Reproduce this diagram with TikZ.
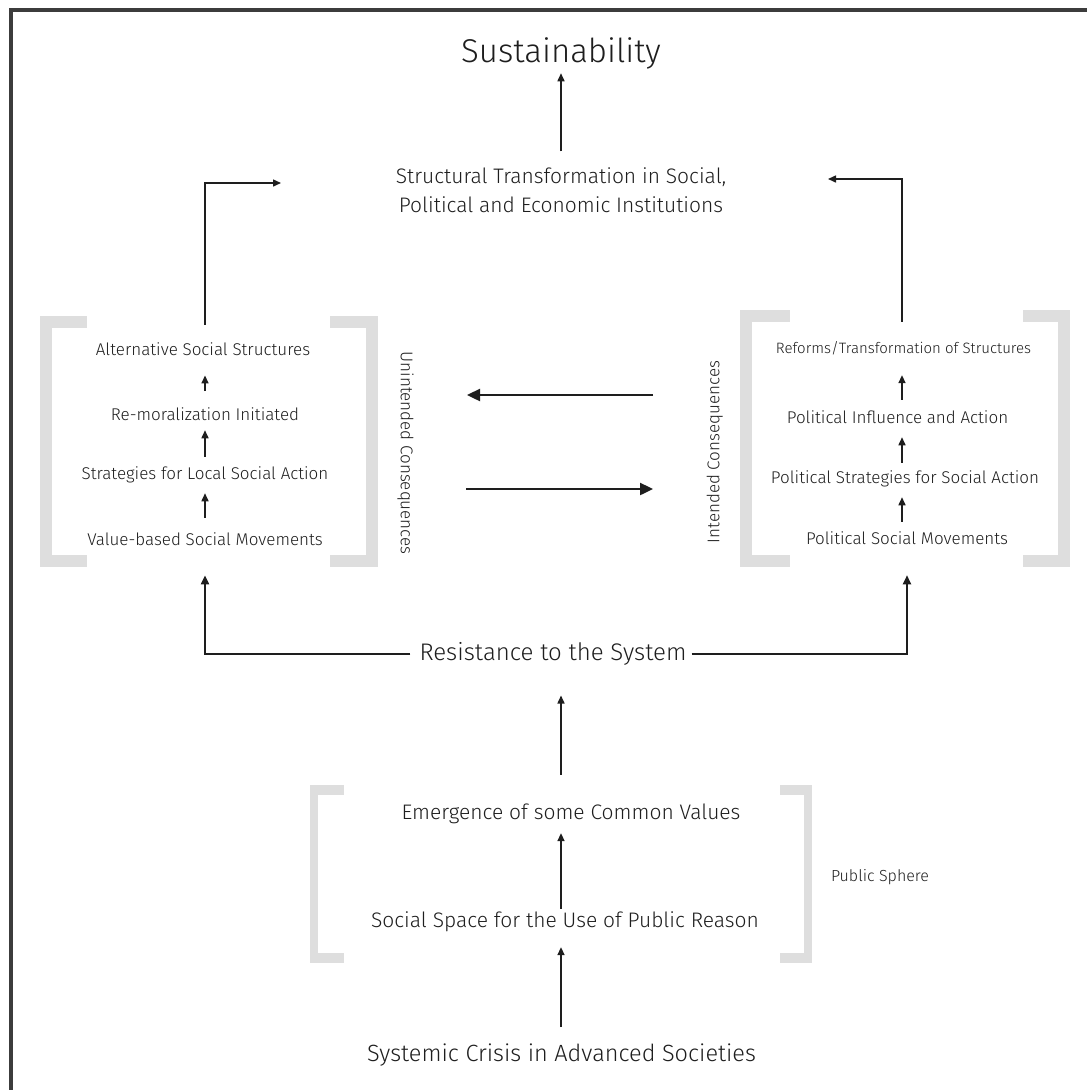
\documentclass[tikz,border=0pt]{standalone}
\usepackage{fontspec}
\setmainfont{Fira Sans Light}
\usetikzlibrary{arrows.meta}
\definecolor{brk}{RGB}{222,222,222}
\definecolor{ink}{RGB}{30,30,30}
\definecolor{framec}{RGB}{60,60,60}
\begin{document}
\begin{tikzpicture}[x=1pt,y=-1pt,
  txt/.style={inner sep=0pt, text=ink, anchor=base},
  fs/.style={font=\fontsize{#1}{#1}\selectfont, text height=0.75*#1 pt, text depth=0.25*#1 pt},
  arr/.style={draw=ink, line width=1.5pt, -{Triangle[length=8pt,width=7pt]}},
  resarr/.style={draw=ink, line width=1.9pt, -{Triangle[length=9pt,width=8pt]}},
  bigarr/.style={draw=ink, line width=2.4pt, -{Triangle[length=13pt,width=12pt]}},
  brkfill/.style={fill=brk, draw=none}]
\useasboundingbox (0,0) rectangle (1087,1090);
\fill[white] (0,0) rectangle (1087,1090);
% frame
\draw[framec, line width=4pt] (11,1090) -- (11,10) -- (1087,10);

% top
\node[txt, fs=33] (sus) at (561,62.4) {Sustainability};
\node[inner sep=0pt, text=ink, align=center, font=\fontsize{21}{29}\selectfont] (st) at (561,190.5)
  {Structural Transformation in Social,\\Political and Economic Institutions};
\draw[arr, shorten <=16.5pt, shorten >=2.4pt] (st.north) -- (sus.south);

% left group
\node[txt, fs=17] (alt) at (203,355.9) {Alternative Social Structures};
\node[txt, fs=17] (rem) at (205,420.9) {Re-moralization Initiated};
\node[txt, fs=17] (sla) at (205,479.4) {Strategies for Local Social Action};
\node[txt, fs=17] (vsm) at (205,545.9) {Value-based Social Movements};
\coordinate (lcol) at (205,0);
\draw[arr, shorten <=16.9pt, shorten >=15.1pt] (rem.north -| lcol) -- (alt.south -| lcol);
\draw[arr, shorten <=9.6pt, shorten >=4.9pt] (sla.north -| lcol) -- (rem.south -| lcol);
\draw[arr, shorten <=15.1pt, shorten >=9.4pt] (vsm.north -| lcol) -- (sla.south -| lcol);
% left brackets
\fill[brkfill] (40,316) rectangle (52,567);
\fill[brkfill] (40,316) rectangle (87,328);
\fill[brkfill] (40,555) rectangle (87,567);
\fill[brkfill] (366,316) rectangle (378,567);
\fill[brkfill] (330,316) rectangle (378,328);
\fill[brkfill] (330,555) rectangle (378,567);
\node[inner sep=0pt, text=ink, fs=17, rotate=-90] (unc) at (405,453) {Unintended Consequences};

% right group
\coordinate (rcol) at (902,0);
\node[txt, fs=15] (ref) at (903.5,353.2) {Reforms/Transformation of Structures};
\node[txt, fs=17] (pia) at (897.5,423.9) {Political Influence and Action};
\node[txt, fs=17] (psa) at (905,483.4) {Political Strategies for Social Action};
\node[txt, fs=17] (psm) at (907,544.4) {Political Social Movements};
\draw[arr, shorten <=11pt, shorten >=18pt] (pia.north -| rcol) -- (ref.south -| rcol);
\draw[arr, shorten <=7.7pt, shorten >=8.9pt] (psa.north -| rcol) -- (pia.south -| rcol);
\draw[arr, shorten <=9.7pt, shorten >=9.4pt] (psm.north -| rcol) -- (psa.south -| rcol);
\fill[brkfill] (740,310) rectangle (752,567);
\fill[brkfill] (740,310) rectangle (790,322);
\fill[brkfill] (740,555) rectangle (790,567);
\fill[brkfill] (1058,310) rectangle (1070,567);
\fill[brkfill] (1023,310) rectangle (1070,322);
\fill[brkfill] (1023,555) rectangle (1070,567);
\node[inner sep=0pt, text=ink, fs=17, rotate=90] (inc) at (715,452) {Intended Consequences};

% elbows to structural transformation
\coordinate (tl) at (281,183);
\coordinate (tr) at (828,179);
\draw[arr, shorten <=18pt] (alt.north -| lcol) |- (tl);
\draw[arr, shorten <=20pt] (ref.north -| rcol) |- (tr);

% middle arrows
\coordinate (ma1) at (653,395);
\coordinate (mb1) at (467,395);
\coordinate (ma2) at (466,489);
\coordinate (mb2) at (653,489);
\draw[bigarr] (ma1) -- (mb1);
\draw[bigarr] (ma2) -- (mb2);

% resistance
\node[txt, fs=24, text height=17pt, text depth=5pt] (res) at (553,660.3) {Resistance to the System};
\draw[resarr, shorten <=9pt, shorten >=25pt] (res.west) -| (vsm.south);
\draw[resarr, shorten <=5pt, shorten >=26.4pt] (res.east) -| (psm.south);

% public sphere
\coordinate (ccol) at (561,0);
\node[txt, fs=21] (ecv) at (571,819.2) {Emergence of some Common Values};
\node[txt, fs=21] (ssp) at (565,927.7) {Social Space for the Use of Public Reason};
\node[txt, fs=23.5] (sys) at (561.5,1061.3) {Systemic Crisis in Advanced Societies};
\draw[arr, shorten <=28.5pt, shorten >=30pt] (ecv.north -| ccol) -- (res.south -| ccol);
\draw[arr, shorten <=3pt, shorten >=8.5pt] (ssp.north -| ccol) -- (ecv.south -| ccol);
\draw[arr, shorten <=16.3pt, shorten >=14pt] (sys.north -| ccol) -- (ssp.south -| ccol);
\fill[brkfill] (310,785) rectangle (318,963);
\fill[brkfill] (310,785) rectangle (344,795);
\fill[brkfill] (310,953) rectangle (344,963);
\fill[brkfill] (804,785) rectangle (812,963);
\fill[brkfill] (780,785) rectangle (812,795);
\fill[brkfill] (780,953) rectangle (812,963);
\node[inner sep=0pt, text=ink, fs=16] (pub) at (880,877) {Public Sphere};
\end{tikzpicture}
\end{document}
